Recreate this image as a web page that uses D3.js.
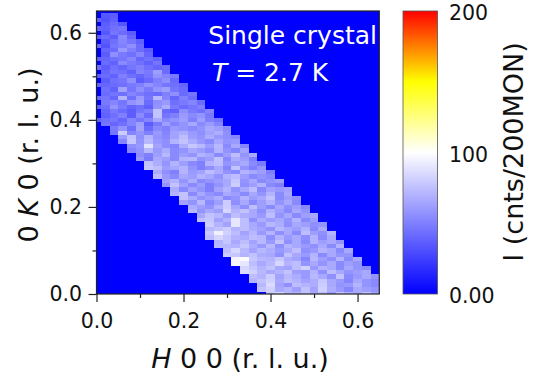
<!DOCTYPE html>
<html>
<head>
<meta charset="utf-8">
<script src="https://cdn.jsdelivr.net/npm/d3@7"></script>
<style>
    html, body { margin: 0; padding: 0; background: #fff; }
    text { font-family: "DejaVu Sans", sans-serif; fill: #111; }
</style>
</head>
<body>
<div id="chart"></div>
<script>
// map steps: H every 0.02, K every 0.01
const stepH = 0.02;
const stepK = 0.01;

const majorTicks = [0, 0.2, 0.4, 0.6];
const minorTicks = [0.1, 0.3, 0.5];
const colorDomain = [0, 100, 150, 200];
const colorRange = ["#0000ff", "#ffffff", "#ffff00", "#ff0000"];
const barLabels = ["0.00", "100", "200"];
const barLabelValues = [0, 100, 200];

// K index of each row, top of the map first
const rowK = d3.range(64, -1, -1);

// first H index that was measured in each row (same order as rowK)
const rowStart = [
    1, 1, 1, 1, 1, 1, 1, 1, 1, 1, 1, 1, 1, 1, 1, 1, 1, 1, 1, 1, 1, 1, 1, 1, 1, 1,
    2, 2, 3, 3, 4, 4, 5, 5, 6, 6, 7, 7, 8, 8, 9, 9, 10, 10, 11, 11, 12, 12,
    13, 13, 13, 13, 14, 14, 15, 15, 16, 16, 17, 17, 18, 18, 19, 19, 20
];

const rowValues = [
    [34, 36],
    [32, 38],
    [36, 42, 34],
    [38, 44, 46],
    [34, 46, 42, 36],
    [42, 36, 54, 40],
    [36, 44, 52, 46, 38],
    [32, 46, 50, 56, 42],
    [40, 42, 60, 50, 42, 36],
    [36, 56, 48, 44, 52, 40],
    [40, 44, 46, 52, 40, 44, 38],
    [42, 38, 54, 48, 44, 38, 46],
    [36, 44, 40, 46, 50, 44, 40, 42],
    [40, 46, 44, 38, 52, 48, 62, 42],
    [42, 38, 50, 44, 40, 46, 58, 52, 48],
    [36, 44, 46, 56, 36, 42, 50, 56, 42],
    [40, 42, 44, 48, 50, 58, 52, 46, 44, 40],
    [44, 38, 64, 46, 56, 48, 58, 62, 46, 42],
    [42, 46, 44, 52, 48, 44, 42, 50, 56, 42, 46],
    [46, 40, 70, 44, 60, 46, 72, 52, 40, 50, 42],
    [48, 52, 46, 58, 62, 42, 56, 60, 44, 48, 52, 42],
    [44, 58, 48, 40, 44, 38, 58, 68, 48, 42, 46, 50],
    [40, 48, 42, 36, 46, 50, 76, 42, 38, 56, 48, 44, 52],
    [38, 44, 50, 36, 54, 42, 76, 46, 50, 60, 54, 58, 48],
    [44, 46, 40, 52, 46, 52, 66, 54, 58, 62, 50, 62, 50, 46],
    [46, 40, 44, 52, 62, 36, 48, 62, 52, 58, 66, 54, 60, 52],
    [48, 58, 44, 64, 42, 54, 50, 60, 58, 54, 58, 66, 62, 54],
    [46, 80, 52, 58, 50, 60, 52, 64, 68, 60, 56, 64, 68, 56],
    [62, 76, 56, 70, 58, 54, 64, 74, 62, 58, 68, 60, 56, 52],
    [52, 78, 58, 72, 60, 56, 70, 76, 68, 60, 54, 66, 58, 60],
    [56, 60, 88, 64, 56, 52, 68, 78, 72, 62, 72, 54, 66, 52],
    [52, 58, 72, 60, 68, 54, 58, 66, 62, 56, 70, 58, 52, 64],
    [56, 50, 62, 72, 54, 62, 58, 70, 66, 54, 62, 74, 58, 66],
    [60, 48, 66, 62, 54, 70, 72, 58, 62, 76, 54, 68, 62, 50],
    [76, 68, 58, 70, 62, 54, 50, 70, 74, 58, 62, 66, 54, 48],
    [78, 74, 62, 66, 70, 58, 50, 56, 66, 52, 76, 58, 50, 58],
    [68, 56, 50, 70, 60, 64, 74, 68, 58, 54, 70, 66, 62, 50],
    [74, 60, 54, 66, 62, 70, 66, 58, 70, 74, 62, 54, 58, 54],
    [64, 70, 58, 68, 54, 58, 62, 66, 78, 58, 66, 54, 58, 62],
    [58, 76, 64, 54, 62, 50, 58, 66, 80, 56, 62, 70, 54, 50],
    [68, 54, 64, 58, 50, 64, 70, 58, 66, 74, 54, 64, 60, 64],
    [70, 76, 54, 66, 58, 54, 66, 62, 54, 66, 58, 70, 54, 66],
    [76, 68, 58, 62, 68, 54, 58, 70, 62, 66, 76, 54, 62, 56],
    [64, 58, 72, 54, 62, 80, 56, 66, 54, 62, 70, 58, 66, 54],
    [68, 62, 58, 70, 80, 66, 56, 74, 62, 54, 66, 56, 62, 54],
    [72, 58, 66, 62, 84, 70, 76, 66, 56, 70, 62, 54, 66, 58],
    [66, 76, 72, 62, 74, 68, 66, 60, 74, 58, 66, 54, 62, 66],
    [74, 78, 64, 70, 90, 74, 56, 68, 62, 66, 58, 70, 54, 62],
    [80, 70, 64, 90, 74, 66, 60, 72, 68, 56, 66, 62, 56, 58],
    [72, 76, 80, 70, 74, 68, 64, 58, 72, 66, 62, 70, 54, 66],
    [78, 94, 82, 74, 64, 72, 60, 70, 56, 66, 54, 74, 62, 56, 70],
    [74, 84, 78, 70, 68, 74, 72, 56, 70, 60, 66, 56, 70, 54, 66],
    [70, 78, 66, 74, 64, 72, 60, 76, 56, 66, 54, 70, 62, 66, 58],
    [72, 72, 70, 78, 68, 60, 72, 56, 70, 66, 60, 56, 66, 54, 70],
    [74, 84, 72, 64, 72, 68, 60, 66, 74, 56, 60, 70, 66, 54, 66],
    [80, 78, 70, 76, 68, 66, 56, 76, 66, 60, 70, 54, 66, 58, 58],
    [96, 98, 78, 72, 70, 78, 68, 64, 52, 72, 62, 56, 70, 54, 66],
    [97, 90, 74, 66, 72, 84, 70, 74, 58, 66, 58, 66, 54, 62, 58],
    [84, 78, 70, 76, 66, 64, 74, 82, 60, 70, 66, 54, 66, 58, 54],
    [86, 82, 72, 66, 70, 76, 62, 60, 70, 56, 74, 66, 58, 62, 66],
    [74, 70, 80, 64, 72, 68, 60, 72, 66, 56, 76, 54, 60, 66, 58],
    [70, 76, 82, 66, 74, 70, 64, 68, 78, 66, 60, 52, 66, 58, 54],
    [72, 86, 64, 56, 74, 70, 68, 80, 66, 58, 60, 70, 58, 54],
    [76, 82, 66, 70, 62, 76, 64, 82, 68, 60, 52, 66, 62, 58],
    [78, 84, 72, 70, 76, 66, 74, 62, 78, 70, 66, 76, 64]
];

// H = 0 column, K indices 64 to 40 (only part of it was measured)
const edgeValues = [0, 38, 0, 40, 0, 36, 0, 42, 0, 0, 38, 0, 44, 0, 36, 0, 40, 0, 0, 42, 0, 38, 0, 0, 36];

var margin = { top: 11, left: 96.5, bottom: 92, right: 168.7 },
    outerW = 548,
    outerH = 386,
    width = outerW - margin.left - margin.right,
    height = outerH - margin.top - margin.bottom;

var svg = d3.select("#chart").append("svg")
    .attr("width", outerW)
    .attr("height", outerH)
    .style("display", "block");

var x = d3.scaleLinear().domain([0, 0.65]).range([margin.left, margin.left + width]);
var y = d3.scaleLinear().domain([0, 0.65]).range([margin.top + height, margin.top]);
var color = d3.scaleLinear().domain(colorDomain).range(colorRange);

svg.append("defs").append("clipPath")
    .attr("id", "plotClip")
    .append("rect")
    .attr("x", x(0)).attr("y", y(0.65))
    .attr("width", width).attr("height", height);

// build the cell list from the row arrays
var cells = [];
rowValues.forEach(function (vals, r) {
    vals.forEach(function (v, i) {
        cells.push({ h: (rowStart[r] + i) * stepH, k: rowK[r] * stepK, v: v });
    });
});
edgeValues.forEach(function (v, i) {
    cells.push({ h: 0, k: (64 - i) * stepK, v: v });
});

var map = svg.append("g").attr("clip-path", "url(#plotClip)");

map.append("rect")
    .attr("x", x(0)).attr("y", y(0.65))
    .attr("width", width).attr("height", height)
    .attr("fill", color(0));

map.selectAll(".cell")
    .data(cells)
    .enter()
    .append("rect")
    .attr("class", "cell")
    .attr("x", d => x(d.h - stepH / 2))
    .attr("y", d => y(d.k + stepK / 2))
    .attr("width", x(stepH) - x(0))
    .attr("height", y(0) - y(stepK))
    .attr("fill", d => color(d.v))
    .attr("shape-rendering", "crispEdges");

// axes
function styleAxis(g) {
    g.select(".domain").remove();
    g.selectAll("line").attr("stroke", "#222").attr("stroke-width", 1.2);
    g.selectAll("text").style("font-size", "20.5px").attr("fill", "#111");
}

svg.append("g")
    .attr("transform", "translate(0," + (margin.top + height) + ")")
    .call(d3.axisBottom(x).tickValues(minorTicks).tickSize(4).tickFormat(""))
    .call(styleAxis);
svg.append("g")
    .attr("transform", "translate(0," + (margin.top + height) + ")")
    .call(d3.axisBottom(x).tickValues(majorTicks).tickSize(8).tickPadding(11).tickFormat(d3.format(".1f")))
    .call(styleAxis);
svg.append("g")
    .attr("transform", "translate(" + margin.left + ",0)")
    .call(d3.axisLeft(y).tickValues(minorTicks).tickSize(4).tickFormat(""))
    .call(styleAxis);
svg.append("g")
    .attr("transform", "translate(" + margin.left + ",0)")
    .call(d3.axisLeft(y).tickValues(majorTicks).tickSize(8).tickPadding(6.5).tickFormat(d3.format(".1f")))
    .call(styleAxis);

// frame
svg.append("rect")
    .attr("x", x(0)).attr("y", y(0.65))
    .attr("width", width).attr("height", height)
    .attr("fill", "none")
    .attr("stroke", "#222")
    .attr("stroke-width", 1.2);

// axis titles
var xTitle = svg.append("text")
    .attr("x", 240).attr("y", 368)
    .attr("text-anchor", "middle")
    .style("font-size", "27px");
xTitle.append("tspan").style("font-style", "italic").text("H");
xTitle.append("tspan").text(" 0 0 (r. l. u.)");

var yTitle = svg.append("text")
    .attr("transform", "translate(38,155) rotate(-90)")
    .attr("text-anchor", "middle")
    .style("font-size", "27px");
yTitle.append("tspan").text("0 ");
yTitle.append("tspan").style("font-style", "italic").text("K");
yTitle.append("tspan").text(" 0 (r. l. u.)");

// annotations
svg.append("text")
    .attr("x", 377).attr("y", 44)
    .attr("text-anchor", "end")
    .style("fill", "#fff")
    .style("font-size", "25px")
    .text("Single crystal");

var tLabel = svg.append("text")
    .attr("x", 212).attr("y", 81)
    .style("fill", "#fff")
    .style("font-size", "25px");
tLabel.append("tspan").style("font-style", "italic").text("T");
tLabel.append("tspan").text(" = 2.7 K");

// colour bar
var barScale = d3.scaleLinear().domain([0, 200]).range([margin.top + height, margin.top]);
var grad = svg.select("defs").append("linearGradient")
    .attr("id", "barGrad")
    .attr("x1", 0).attr("y1", 1).attr("x2", 0).attr("y2", 0);
grad.selectAll("stop")
    .data(colorDomain)
    .enter()
    .append("stop")
    .attr("offset", d => d / 200)
    .attr("stop-color", d => color(d));

svg.append("rect")
    .attr("x", 403).attr("y", barScale(200))
    .attr("width", 34.5).attr("height", barScale(0) - barScale(200))
    .attr("fill", "url(#barGrad)")
    .attr("stroke", "#555")
    .attr("stroke-width", 0.8);

svg.selectAll(".barLabel")
    .data(barLabelValues)
    .enter()
    .append("text")
    .attr("class", "barLabel")
    .attr("x", 449)
    .attr("y", d => barScale(d) + 9)
    .style("font-size", "20.5px")
    .text((d, i) => barLabels[i]);

svg.append("text")
    .attr("transform", "translate(523,152) rotate(-90)")
    .attr("text-anchor", "middle")
    .style("font-size", "27px")
    .text("I (cnts/200MON)");
</script>
</body>
</html>
